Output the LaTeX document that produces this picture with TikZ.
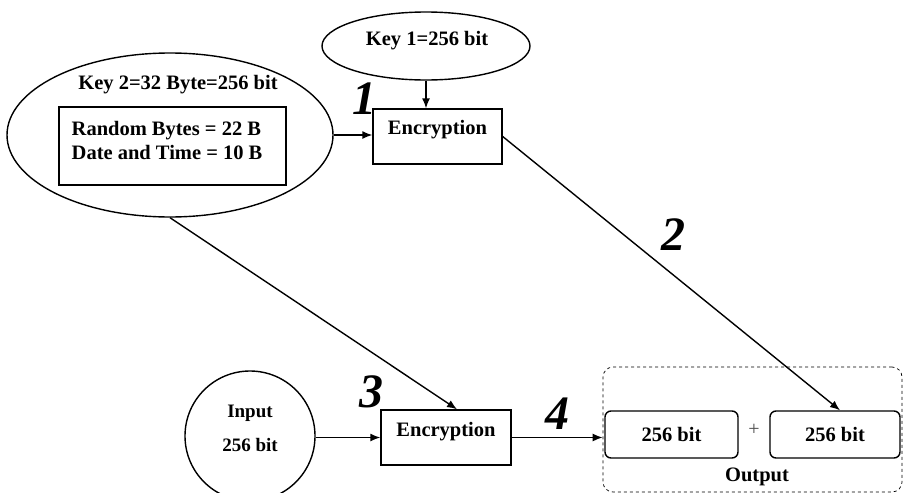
\documentclass[tikz,border=0pt]{standalone}
\usepackage{fontspec}
\setmainfont{Liberation Serif}
\usetikzlibrary{arrows.meta,shapes.geometric}

\begin{document}
\begin{tikzpicture}[x=1pt,y=-1pt,
  line width=1.4pt,
  txt/.style={font=\fontsize{20.5}{24}\selectfont\bfseries, inner sep=0pt},
  box/.style={draw, inner sep=0pt},
  obox/.style={draw, rounded corners=6pt, inner sep=0pt, minimum height=47pt},
  num/.style={font=\fontsize{48}{48}\selectfont\bfseries\itshape, inner sep=0pt},
  arr/.style={-{Latex[length=10pt,width=8pt]}}]
\useasboundingbox (0,0) rectangle (903,493);

% key sources
\node[draw, ellipse, minimum width=208pt, minimum height=68pt] (key1) at (426,46) {};
\node[txt] (key1text) at (427,41) {Key 1=256 bit};
\node[draw, ellipse, minimum width=326pt, minimum height=164pt] (key2) at (170,135) {};
\node[txt] (key2title) at (178,85) {Key 2=32 Byte=256 bit};
\node[box, minimum width=227pt, minimum height=78pt] (parts) at (172.5,146) {};
\node[txt, anchor=west, align=left] (partstext) at (71,140) {Random Bytes = 22 B\\Date and Time = 10 B};

% encryption stages
\node[box, minimum width=129pt, minimum height=55pt] (enc1) at (437.5,136.5) {};
\node[txt] (enc1text) at (437.5,130) {Encryption};
\node[box, minimum width=130pt, minimum height=55pt] (enc2) at (446,437.5) {};
\node[txt] (enc2text) at (446,432) {Encryption};

% input
\node[draw, circle, minimum size=130pt, inner sep=0pt] (inp) at (250,436) {};
\node[align=center, inner sep=0pt, font=\fontsize{19}{34}\selectfont\bfseries] (inptext) at (250,428) {Input\\256 bit};

% output group
\node[draw, dashed, line width=0.7pt, rounded corners=10pt, minimum width=299pt, minimum height=125pt] (outbox) at (752.5,429.5) {};
\node[obox, minimum width=133pt, txt] (out1) at (671.5,434.5) {256 bit};
\node[obox, minimum width=130pt, txt] (out2) at (835,434.5) {256 bit};
\node[font=\fontsize{20}{20}\selectfont, text=black!70, inner sep=0pt] (plus) at (754,430) {+};
\node[txt] (outlabel) at (757,477) {Output};

% connectors
\draw[arr] (key1.south) -- (key1.south |- enc1.north);
\draw[arr] (key2.east) -- (key2.east -| enc1.west);
\draw[arr] (enc1.east) -- ([xshift=5pt]out2.north);
\draw[arr] (key2.south) -- ([xshift=11pt]enc2.north);
\draw[arr] (enc2.west -| inp.east) -- (enc2.west);
\draw[arr] (enc2.east) -- (enc2.east -| outbox.west);

% step numbers
\node[num] (n1) at (364,99) {1};
\node[num] (n2) at (673,235) {2};
\node[num] (n3) at (371,392) {3};
\node[num] (n4) at (557,414) {4};
\end{tikzpicture}
\end{document}
